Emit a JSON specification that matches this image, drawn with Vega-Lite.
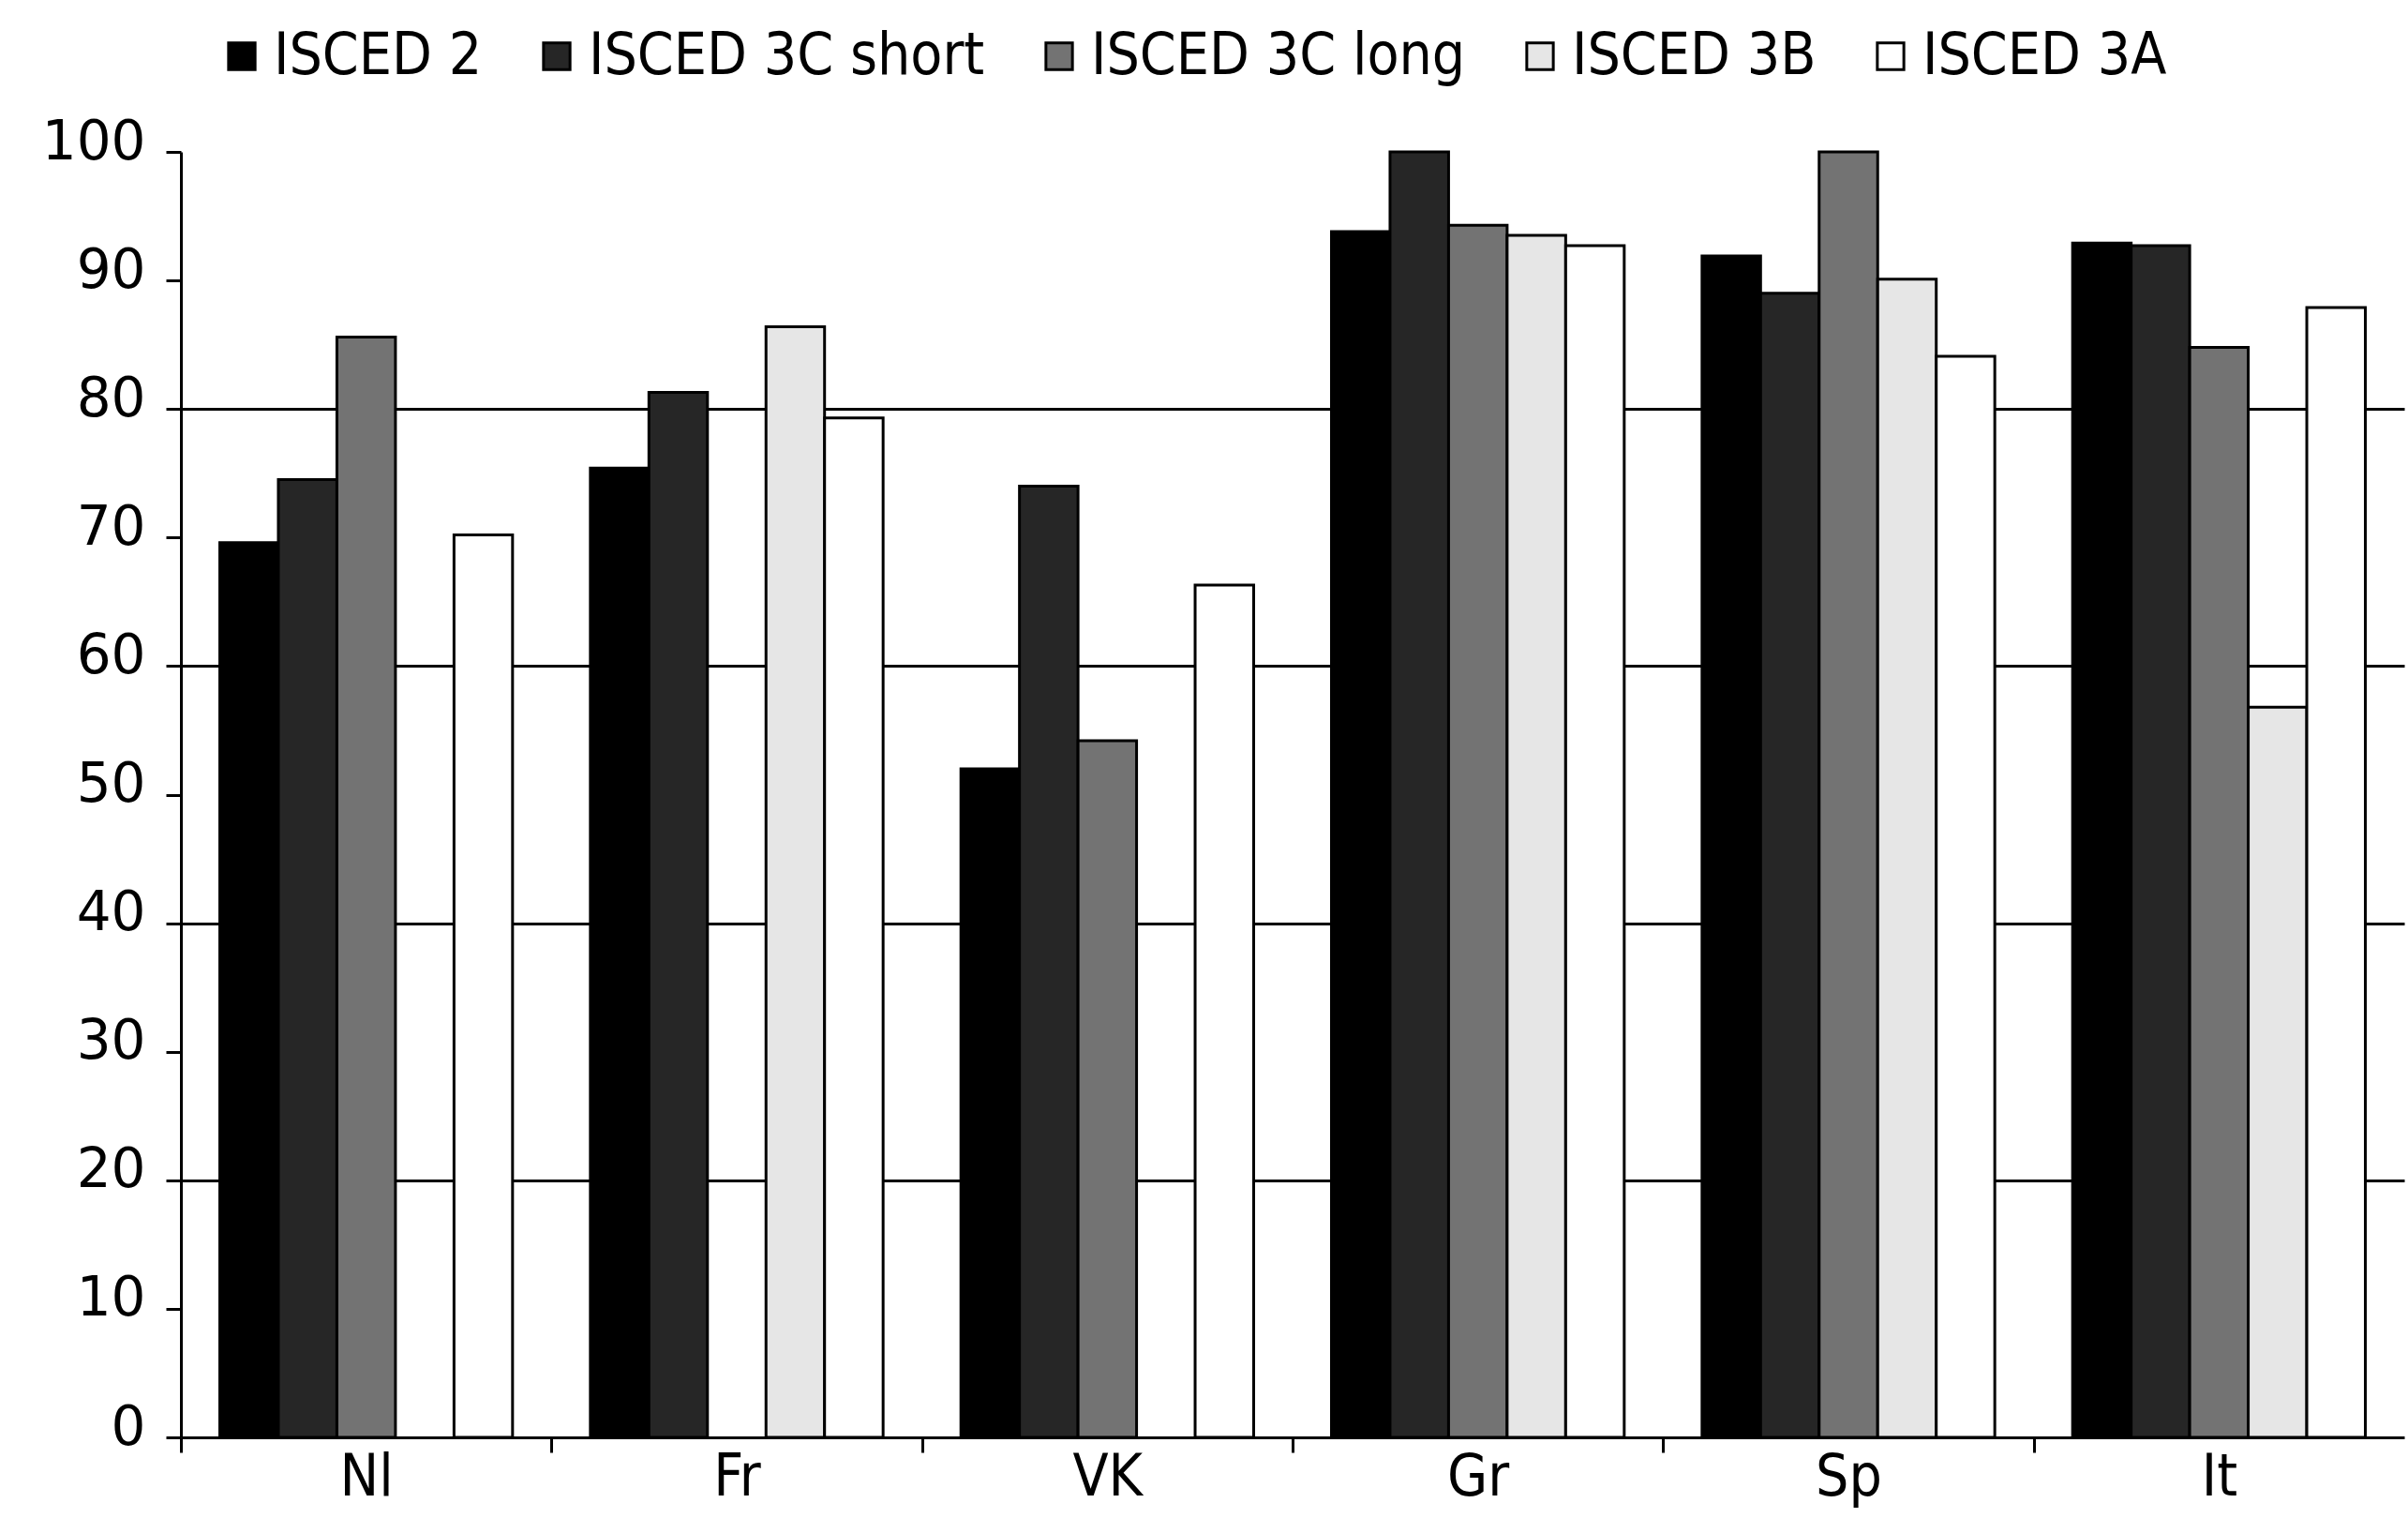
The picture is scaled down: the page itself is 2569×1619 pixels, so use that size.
{
  "$schema": "https://vega.github.io/schema/vega-lite/v6.json",
  "autosize": {"type": "none"},
  "width": 2372,
  "height": 1371,
  "padding": {"left": 193, "top": 162, "right": 4, "bottom": 86},
  "background": "white",
  "config": {
    "font": "DejaVu Sans",
    "view": {"stroke": null},
    "axis": {"labelColor": "black", "titleColor": "black"}
  },
  "data": {
    "values": [
      {"country": "Nl", "level": "ISCED 2", "value": 69.6},
      {"country": "Nl", "level": "ISCED 3C short", "value": 74.5},
      {"country": "Nl", "level": "ISCED 3C long", "value": 85.6},
      {"country": "Nl", "level": "ISCED 3A", "value": 70.2},
      {"country": "Fr", "level": "ISCED 2", "value": 75.4},
      {"country": "Fr", "level": "ISCED 3C short", "value": 81.3},
      {"country": "Fr", "level": "ISCED 3B", "value": 86.4},
      {"country": "Fr", "level": "ISCED 3A", "value": 79.3},
      {"country": "VK", "level": "ISCED 2", "value": 52.0},
      {"country": "VK", "level": "ISCED 3C short", "value": 74.0},
      {"country": "VK", "level": "ISCED 3C long", "value": 54.2},
      {"country": "VK", "level": "ISCED 3A", "value": 66.3},
      {"country": "Gr", "level": "ISCED 2", "value": 93.8},
      {"country": "Gr", "level": "ISCED 3C short", "value": 100},
      {"country": "Gr", "level": "ISCED 3C long", "value": 94.3},
      {"country": "Gr", "level": "ISCED 3B", "value": 93.5},
      {"country": "Gr", "level": "ISCED 3A", "value": 92.7},
      {"country": "Sp", "level": "ISCED 2", "value": 91.9},
      {"country": "Sp", "level": "ISCED 3C short", "value": 89.0},
      {"country": "Sp", "level": "ISCED 3C long", "value": 100},
      {"country": "Sp", "level": "ISCED 3B", "value": 90.1},
      {"country": "Sp", "level": "ISCED 3A", "value": 84.1},
      {"country": "It", "level": "ISCED 2", "value": 92.9},
      {"country": "It", "level": "ISCED 3C short", "value": 92.7},
      {"country": "It", "level": "ISCED 3C long", "value": 84.8},
      {"country": "It", "level": "ISCED 3B", "value": 56.8},
      {"country": "It", "level": "ISCED 3A", "value": 87.9}
    ]
  },
  "mark": {"type": "bar", "stroke": "black", "strokeWidth": 3, "strokeJoin": "miter"},
  "encoding": {
    "x": {
      "field": "country",
      "type": "nominal",
      "sort": ["Nl", "Fr", "VK", "Gr", "Sp", "It"],
      "scale": {"paddingInner": 0.21, "paddingOuter": 0.105},
      "axis": {
        "title": null,
        "labelAngle": 0,
        "labelFont": "DejaVu Sans Condensed, DejaVu Sans",
        "labelFontSize": 62,
        "labelPadding": -4,
        "ticks": true,
        "tickOffset": -197.67,
        "labelOffset": 197.67,
        "tickSize": 16,
        "tickWidth": 3,
        "tickColor": "black",
        "domainColor": "black",
        "domainWidth": 3,
        "grid": false
      }
    },
    "xOffset": {
      "field": "level",
      "type": "nominal",
      "sort": ["ISCED 2", "ISCED 3C short", "ISCED 3C long", "ISCED 3B", "ISCED 3A"],
      "scale": {"paddingInner": 0, "paddingOuter": 0}
    },
    "y": {
      "field": "value",
      "type": "quantitative",
      "scale": {"domain": [0, 100], "nice": false},
      "axis": {
        "title": null,
        "values": [0, 10, 20, 30, 40, 50, 60, 70, 80, 90, 100],
        "labelFont": "DejaVu Sans",
        "labelFontSize": 58,
        "labelPadding": 22,
        "labelOffset": -10,
        "tickSize": 16,
        "tickWidth": 3,
        "tickColor": "black",
        "domainColor": "black",
        "domainWidth": 3,
        "grid": true,
        "gridColor": "black",
        "gridWidth": 3,
        "gridOpacity": {"condition": {"test": "datum.value > 0 && datum.value < 100 && datum.value % 20 === 0", "value": 1}, "value": 0}
      }
    },
    "color": {
      "field": "level",
      "type": "nominal",
      "sort": ["ISCED 2", "ISCED 3C short", "ISCED 3C long", "ISCED 3B", "ISCED 3A"],
      "scale": {
        "domain": ["ISCED 2", "ISCED 3C short", "ISCED 3C long", "ISCED 3B", "ISCED 3A"],
        "range": ["#000000", "#262626", "#737373", "#e6e6e6", "#ffffff"]
      },
      "legend": {
        "title": null,
        "orient": "none",
        "direction": "horizontal",
        "columns": 5,
        "legendX": 34,
        "legendY": -133,
        "symbolType": "square",
        "symbolSize": 800,
        "symbolStrokeColor": "black",
        "symbolStrokeWidth": 3,
        "symbolOpacity": 1,
        "labelFontSize": 62,
        "labelFont": "DejaVu Sans Condensed, DejaVu Sans",
        "labelColor": "black",
        "labelOffset": 3,
        "columnPadding": 48,
        "labelLimit": 0
      }
    }
  }
}
